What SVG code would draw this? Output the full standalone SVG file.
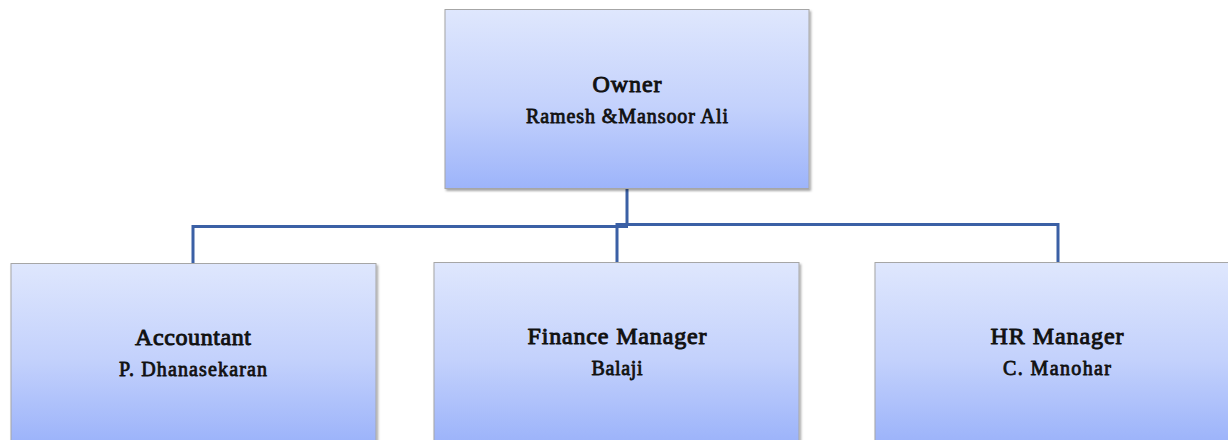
<svg xmlns="http://www.w3.org/2000/svg" width="1228" height="440" viewBox="0 0 1228 440">
<style>
.box{stroke:#a6a6a6;stroke-width:1}
.t1,.t2{font-family:'Liberation Serif','Times New Roman',serif;font-weight:normal;fill:#111;stroke:#111;stroke-linejoin:round;text-anchor:middle}
.t1{font-size:24px;stroke-width:0.95}
.t2{font-size:20px;stroke-width:0.8}
.conn{fill:none;stroke:#3b60a5;stroke-width:3}
</style>
<defs>
<linearGradient id="g" x1="0" y1="0" x2="0" y2="1">
<stop offset="0" stop-color="#dfe7fd"/>
<stop offset="0.55" stop-color="#c3d1fc"/>
<stop offset="1" stop-color="#9db4fa"/>
</linearGradient>
<linearGradient id="g2" gradientUnits="userSpaceOnUse" x1="0" y1="262" x2="0" y2="440">
<stop offset="0" stop-color="#dfe7fd"/>
<stop offset="0.55" stop-color="#c3d1fc"/>
<stop offset="1" stop-color="#9db4fa"/>
</linearGradient>
<filter id="sh" x="-5%" y="-5%" width="110%" height="115%">
<feDropShadow dx="1.5" dy="2" stdDeviation="1.2" flood-color="#000" flood-opacity="0.35"/>
</filter>
</defs>
<g id="connectors">
<path class="conn" d="M627,188 V226"/>
<path class="conn" d="M193,264 V226.5 H628"/>
<path class="conn" d="M617,263 V224.5 H1058 V263"/>
</g>
<g id="owner">
<rect class="box" fill="url(#g)" x="445" y="9.5" width="364" height="179" filter="url(#sh)"/>
<text class="t1" x="627" y="92" textLength="69" lengthAdjust="spacing">Owner</text>
<text class="t2" x="627" y="122.5" textLength="202" lengthAdjust="spacing">Ramesh &amp;Mansoor Ali</text>
</g>
<g id="accountant">
<rect class="box" fill="url(#g2)" x="11" y="263.5" width="365" height="190" filter="url(#sh)"/>
<text class="t1" x="193" y="345" textLength="116" lengthAdjust="spacing">Accountant</text>
<text class="t2" x="193" y="375.5" textLength="148" lengthAdjust="spacing">P. Dhanasekaran</text>
</g>
<g id="finance">
<rect class="box" fill="url(#g2)" x="434" y="262.5" width="365" height="190" filter="url(#sh)"/>
<text class="t1" x="617" y="343.5" textLength="179" lengthAdjust="spacing">Finance Manager</text>
<text class="t2" x="617" y="374.5" textLength="51" lengthAdjust="spacing">Balaji</text>
</g>
<g id="hr">
<rect class="box" fill="url(#g2)" x="875" y="262.5" width="365" height="190" filter="url(#sh)"/>
<text class="t1" x="1057" y="343.5" textLength="133" lengthAdjust="spacing">HR Manager</text>
<text class="t2" x="1057" y="374.5" textLength="108" lengthAdjust="spacing">C. Manohar</text>
</g>
</svg>
